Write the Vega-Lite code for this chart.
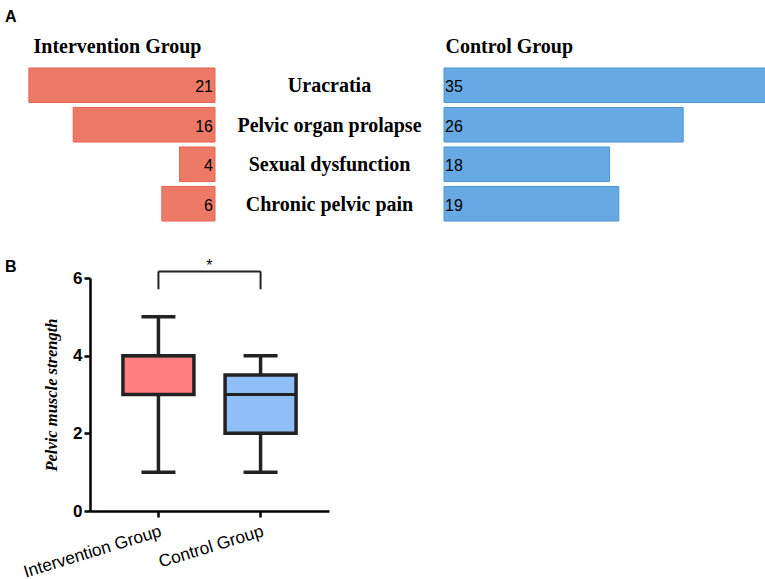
{
  "$schema": "https://vega.github.io/schema/vega-lite/v6.json",
  "padding": {"left": 5, "top": 8.5, "right": 0, "bottom": 0},
  "background": "white",
  "config": {"view": {"stroke": null}, "font": "Liberation Sans", "axisY": {"labelOverlap": false}},
  "datasets": {
    "symptoms": [
      {"symptom": "Uracratia", "intervention": 21, "control": 35},
      {"symptom": "Pelvic organ prolapse", "intervention": 16, "control": 26},
      {"symptom": "Sexual dysfunction", "intervention": 4, "control": 18},
      {"symptom": "Chronic pelvic pain", "intervention": 6, "control": 19}
    ],
    "strength": [
      {"group": "Intervention Group", "min": 1, "q1": 3, "median": 4, "q3": 4, "max": 5},
      {"group": "Control Group", "min": 1, "q1": 2, "median": 3, "q3": 3.5, "max": 4}
    ],
    "bracket": [
      {"from": "Intervention Group", "to": "Control Group", "top": 6.17, "bottom": 5.71, "label": "*", "label_y": 6.3}
    ]
  },
  "spacing": 34.5,
  "vconcat": [
    {
      "title": {"text": "A", "anchor": "start", "frame": "group", "dx": -15, "fontSize": 16, "fontWeight": "bold", "font": "Liberation Sans", "color": "black", "offset": 12},
      "spacing": 0,
      "hconcat": [
        {
          "width": 195, "height": 158,
          "data": {"name": "symptoms"},
          "title": {"text": "Intervention Group", "anchor": "middle", "font": "Liberation Serif", "fontSize": 20, "fontWeight": "bold", "color": "black", "offset": 8.5},
          "encoding": {
            "y": {"field": "symptom", "type": "nominal", "sort": null, "axis": null, "scale": {"paddingInner": 0.125, "paddingOuter": 0.0625}}
          },
          "layer": [
            {
              "mark": {"type": "bar", "fill": "#EC7A67", "stroke": "#E8644F", "strokeWidth": 1},
              "encoding": {"x": {"field": "intervention", "type": "quantitative", "scale": {"domain": [0, 21], "reverse": true}, "axis": null}}
            },
            {
              "mark": {"type": "text", "align": "right", "baseline": "middle", "dx": -2, "dy": 2, "fontSize": 16, "color": "black"},
              "encoding": {
                "x": {"datum": 0, "type": "quantitative"},
                "text": {"field": "intervention", "type": "quantitative"}
              }
            }
          ]
        },
        {
          "width": 227, "height": 158,
          "data": {"name": "symptoms"},
          "mark": {"type": "text", "font": "Liberation Serif", "fontSize": 20, "fontWeight": "bold", "baseline": "middle", "dy": 1, "color": "black"},
          "encoding": {
            "y": {"field": "symptom", "type": "nominal", "sort": null, "axis": null, "scale": {"paddingInner": 0.125, "paddingOuter": 0.0625}},
            "text": {"field": "symptom", "type": "nominal"}
          }
        },
        {
          "width": 322, "height": 158,
          "data": {"name": "symptoms"},
          "title": {"text": "Control Group", "anchor": "start", "dx": 2, "font": "Liberation Serif", "fontSize": 20, "fontWeight": "bold", "color": "black", "offset": 8.5},
          "encoding": {
            "y": {"field": "symptom", "type": "nominal", "sort": null, "axis": null, "scale": {"paddingInner": 0.125, "paddingOuter": 0.0625}}
          },
          "layer": [
            {
              "mark": {"type": "bar", "fill": "#66A9E3", "stroke": "#4E97DA", "strokeWidth": 1},
              "encoding": {"x": {"field": "control", "type": "quantitative", "scale": {"domain": [0, 35]}, "axis": null}}
            },
            {
              "mark": {"type": "text", "align": "left", "baseline": "middle", "dx": 1, "dy": 2, "fontSize": 16, "color": "black"},
              "encoding": {
                "x": {"datum": 0, "type": "quantitative"},
                "text": {"field": "control", "type": "quantitative"}
              }
            }
          ]
        }
      ]
    },
    {
      "title": {"text": "B", "anchor": "start", "frame": "group", "dx": -15, "fontSize": 16, "fontWeight": "bold", "font": "Liberation Sans", "color": "black", "offset": -17},
      "spacing": 0,
      "hconcat": [
        {
          "width": 1, "height": 233,
          "data": {"values": []},
          "mark": "point"
        },
        {
          "width": 239, "height": 233,
          "layer": [
            {
              "data": {"name": "strength"},
              "mark": {"type": "rule", "color": "#222222", "strokeWidth": 3.5},
              "encoding": {
                "x": {"field": "group", "type": "nominal", "title": null,
                  "scale": {"domain": ["Intervention Group", "Control Group"], "paddingInner": 0, "paddingOuter": 0.17},
                  "axis": {"domainColor": "black", "domainWidth": 2.5, "tickColor": "black", "tickWidth": 2.5, "tickSize": 6, "labelAngle": -17, "labelAlign": "right", "labelBaseline": "top", "labelFontSize": 17.3, "labelColor": "black", "labelPadding": 5, "title": null}},
                "y": {"field": "min", "type": "quantitative", "title": "Pelvic muscle strength",
                  "scale": {"domain": [0, 6], "nice": false},
                  "axis": {"values": [0, 1, 2, 3, 4, 5, 6], "labelOverlap": false, "grid": false, "domainColor": "black", "domainWidth": 2.5, "tickColor": "black", "tickWidth": 2.5, "tickSize": 6, "labelFontSize": 17, "labelFontWeight": "bold", "labelColor": "black", "labelPadding": 2, "titleFont": "Liberation Serif", "titleFontStyle": "italic", "titleFontWeight": "bold", "titleFontSize": 16.5, "titleColor": "black", "titlePadding": 13}},
                "y2": {"field": "max"}
              }
            },
            {
              "data": {"name": "strength"},
              "mark": {"type": "bar", "size": 71, "stroke": "#222222", "strokeWidth": 3.5},
              "encoding": {
                "x": {"field": "group", "type": "nominal", "title": null},
                "y": {"field": "q1", "type": "quantitative", "title": "Pelvic muscle strength",
                  "axis": {"values": [0, 1, 2, 3, 4, 5, 6], "labelOverlap": false, "grid": false, "domainColor": "black", "domainWidth": 2.5, "tickColor": "black", "tickWidth": 2.5, "tickSize": 6, "labelFontSize": 17, "labelFontWeight": "bold", "labelColor": "black", "labelPadding": 2, "titleFont": "Liberation Serif", "titleFontStyle": "italic", "titleFontWeight": "bold", "titleFontSize": 16.5, "titleColor": "black", "titlePadding": 13}},
                "y2": {"field": "q3"},
                "fill": {"field": "group", "type": "nominal", "scale": {"domain": ["Intervention Group", "Control Group"], "range": ["#FF7F80", "#90BFF7"]}, "legend": null}
              }
            },
            {
              "data": {"name": "strength"},
              "mark": {"type": "tick", "size": 71, "thickness": 3, "color": "#222222", "opacity": 1},
              "encoding": {
                "x": {"field": "group", "type": "nominal", "title": null},
                "y": {"field": "median", "type": "quantitative", "title": "Pelvic muscle strength"}
              }
            },
            {
              "data": {"name": "strength"},
              "mark": {"type": "tick", "size": 34, "thickness": 3.5, "color": "#222222", "opacity": 1},
              "encoding": {
                "x": {"field": "group", "type": "nominal", "title": null},
                "y": {"field": "min", "type": "quantitative", "title": "Pelvic muscle strength"}
              }
            },
            {
              "data": {"name": "strength"},
              "mark": {"type": "tick", "size": 34, "thickness": 3.5, "color": "#222222", "opacity": 1},
              "encoding": {
                "x": {"field": "group", "type": "nominal", "title": null},
                "y": {"field": "max", "type": "quantitative", "title": "Pelvic muscle strength"}
              }
            },
            {
              "data": {"name": "bracket"},
              "mark": {"type": "rule", "color": "#222222", "strokeWidth": 2},
              "encoding": {
                "x": {"field": "from", "type": "nominal", "title": null, "bandPosition": 0.5},
                "x2": {"field": "to", "bandPosition": 0.5},
                "y": {"field": "top", "type": "quantitative", "title": "Pelvic muscle strength"}
              }
            },
            {
              "data": {"name": "bracket"},
              "mark": {"type": "rule", "color": "#222222", "strokeWidth": 2},
              "encoding": {
                "x": {"field": "from", "type": "nominal", "title": null},
                "y": {"field": "bottom", "type": "quantitative", "title": "Pelvic muscle strength"},
                "y2": {"field": "top"}
              }
            },
            {
              "data": {"name": "bracket"},
              "mark": {"type": "rule", "color": "#222222", "strokeWidth": 2},
              "encoding": {
                "x": {"field": "to", "type": "nominal", "title": null},
                "y": {"field": "bottom", "type": "quantitative", "title": "Pelvic muscle strength"},
                "y2": {"field": "top"}
              }
            },
            {
              "data": {"name": "bracket"},
              "mark": {"type": "text", "fontSize": 16, "dx": 51, "baseline": "middle", "color": "black"},
              "encoding": {
                "x": {"field": "from", "type": "nominal", "title": null},
                "y": {"field": "label_y", "type": "quantitative", "title": "Pelvic muscle strength"},
                "text": {"field": "label", "type": "nominal"}
              }
            }
          ]
        }
      ]
    }
  ]
}
